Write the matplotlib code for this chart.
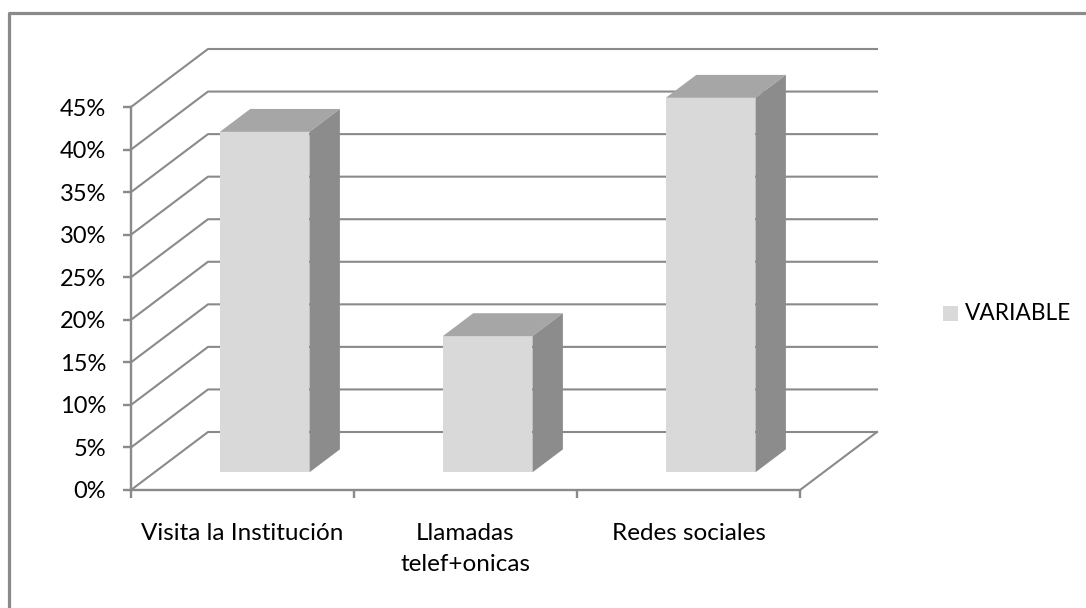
import matplotlib
matplotlib.use('Agg')
import matplotlib.pyplot as plt
from matplotlib.lines import Line2D
from matplotlib.patches import Polygon, Rectangle

categories = ['Visita la Institución', 'Llamadas\ntelef+onicas', 'Redes sociales']
values = [40, 16, 44]
yticks = [0, 5, 10, 15, 20, 25, 30, 35, 40, 45]

W, H = 1086, 608
grey = '#8a8a8a'
front_col = '#d9d9d9'
top_col = '#a6a6a6'
side_col = '#8c8c8c'

plt.rcParams['font.family'] = ['Lato', 'DejaVu Sans']

fig = plt.figure(figsize=(W/100, H/100), dpi=100)

# plot area in pixels, front plane of the fake 3d box
x0, x1 = 131, 800
ybot, ytop = 490, 107
ax = fig.add_axes([x0/W, 1-ybot/H, (x1-x0)/W, (ybot-ytop)/H])
ax.set_xlim(0, 3)
ax.set_ylim(0, 45)

# depth of the box in data units
depth_x = 77/((x1-x0)/3)
depth_y = 58/((ybot-ytop)/45)
bar_w = 0.402
bar_front = 0.305
bar_back = 0.70

for v in yticks:
    ax.plot([0, depth_x, 3+depth_x], [v, v+depth_y, v+depth_y], color=grey, lw=1.5, clip_on=False, zorder=1)
ax.plot([3, 3+depth_x], [0, depth_y], color=grey, lw=1.5, clip_on=False, zorder=1)

for i, val in enumerate(values):
    l = i + 0.5 - bar_w/2 + bar_front*depth_x - 0.006
    r = l + bar_w
    b = bar_front*depth_y
    t = b + val
    ddx = (bar_back-bar_front)*depth_x
    ddy = (bar_back-bar_front)*depth_y
    ax.add_patch(Polygon([(l, b), (r, b), (r, t), (l, t)], fc=front_col, ec='none', clip_on=False, zorder=3))
    ax.add_patch(Polygon([(l, t), (r, t), (r+ddx, t+ddy), (l+ddx, t+ddy)], fc=top_col, ec='none', clip_on=False, zorder=3))
    ax.add_patch(Polygon([(r, b), (r+ddx, b+ddy), (r+ddx, t+ddy), (r, t)], fc=side_col, ec='none', clip_on=False, zorder=3))

for s in ['top', 'right']:
    ax.spines[s].set_visible(False)
for s in ['left', 'bottom']:
    ax.spines[s].set_color(grey)
    ax.spines[s].set_linewidth(1.7)

ax.set_yticks(yticks)
ax.set_yticklabels([str(v) + '%' for v in yticks])
ax.set_xticks([0, 1, 2, 3])
ax.set_xticklabels([])
ax.set_xticks([0.5, 1.5, 2.5], minor=True)
ax.set_xticklabels(categories, minor=True, linespacing=1.55, va='top')
ax.tick_params(axis='both', which='major', color=grey, length=6, width=1.7, labelsize=17, labelcolor='black')
ax.tick_params(axis='y', pad=12)
ax.tick_params(axis='x', which='minor', length=0, pad=24, labelsize=17.5, labelcolor='black')

# legend
fig.add_artist(Rectangle((943/W, 1-321/H), 15/W, 15/H, fc=front_col, ec='none', transform=fig.transFigure))
fig.text(965/W, 1-313/H, 'VARIABLE', fontsize=16.3, va='center', ha='left', color='black')

# chart frame
fig.add_artist(Line2D([9/W, 9/W, 1], [0, 1-13/H, 1-13/H], color=grey, lw=2.3, transform=fig.transFigure))

fig.savefig('out.png', dpi=100)
